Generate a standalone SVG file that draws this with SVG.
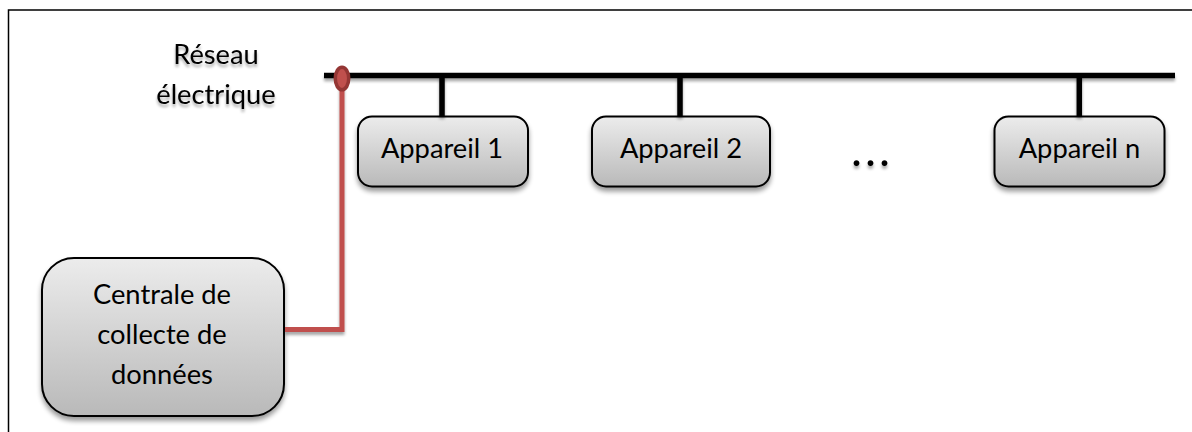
<svg xmlns="http://www.w3.org/2000/svg" width="1192" height="432" viewBox="0 0 1192 432">
<defs>
<linearGradient id="g" x1="0" y1="0" x2="0" y2="1"><stop offset="0" stop-color="#ececec"/><stop offset="1" stop-color="#b9b9b9"/></linearGradient>
<filter id="s" x="-10%" y="-30%" width="120%" height="170%"><feGaussianBlur in="SourceAlpha" stdDeviation="2.5"/><feOffset dx="0" dy="4"/><feComponentTransfer><feFuncA type="linear" slope="0.4"/></feComponentTransfer><feMerge><feMergeNode/><feMergeNode in="SourceGraphic"/></feMerge></filter>
<filter id="l" x="0" y="0" width="1192" height="432" filterUnits="userSpaceOnUse"><feGaussianBlur in="SourceAlpha" stdDeviation="1.500"/><feOffset dx="0" dy="3"/><feComponentTransfer><feFuncA type="linear" slope="0.35"/></feComponentTransfer><feMerge><feMergeNode/><feMergeNode in="SourceGraphic"/></feMerge></filter>
</defs>
<style>
.n{fill:url(#g);stroke:#000;stroke-width:2;filter:url(#s)}
.t{font-family:"Lato","Liberation Sans",sans-serif;font-size:27.300px;fill:#000;text-anchor:middle}
.b{fill:none;stroke:#000;stroke-width:5.500;filter:url(#l)}
.r{fill:none;stroke:#c0504d;stroke-width:5;filter:url(#l)}
.f{fill:none;stroke:#000;stroke-width:1.500}
.sh{filter:url(#l)}
</style>
<path id="frame" class="f" d="M8.500 432V10H1192"/>
<g id="appareil1"><rect class="n" x="358" y="116.500" width="170" height="70" rx="14"/><text class="t" x="442" y="158">Appareil 1</text></g>
<g id="appareil2"><rect class="n" x="592" y="116.500" width="178" height="70" rx="14"/><text class="t" x="681" y="158">Appareil 2</text></g>
<g id="appareiln"><rect class="n" x="994.500" y="116.500" width="170" height="70" rx="14"/><text class="t" x="1079.500" y="158">Appareil n</text></g>
<g id="centrale"><rect class="n" x="42" y="258" width="242" height="158" rx="32"/>
<text class="t" x="162" y="304">Centrale de</text><text class="t" x="162" y="344">collecte de</text><text class="t" x="162" y="384">données</text></g>
<g id="connectors">
<path class="b" d="M324 75.500H1175"/>
<path class="b" d="M442 75V116M680 75V116M1079.300 75V116"/>
<path class="r" d="M285 329.500H342V75"/>
<ellipse cx="342" cy="78.500" rx="6.700" ry="11.300" fill="#c0504d" stroke="#943634" stroke-width="3.500"/>
</g>
<g id="reseau" class="sh"><text class="t" x="216" y="64">Réseau</text><text class="t" x="216" y="104">électrique</text></g>
<text id="dots" class="t sh" x="852" y="165.500" style="font-size:38px;font-weight:700;letter-spacing:5px;text-anchor:start">...</text>
</svg>
